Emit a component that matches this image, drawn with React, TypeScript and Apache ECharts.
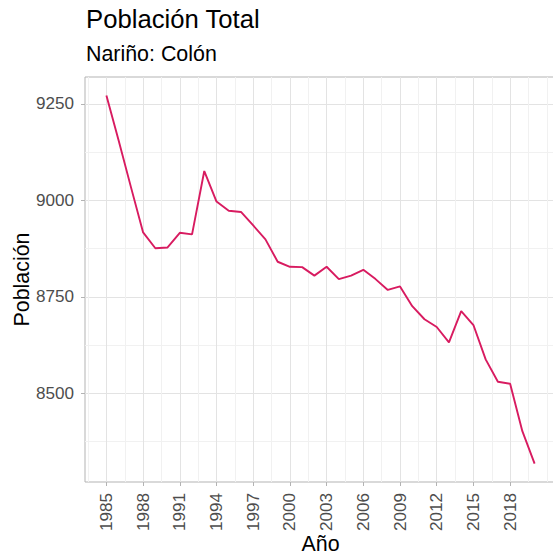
import React, { useEffect, useRef } from "react";
import * as echarts from "echarts";

const years: number[] = [
  1985, 1986, 1987, 1988, 1989, 1990, 1991, 1992, 1993, 1994, 1995, 1996,
  1997, 1998, 1999, 2000, 2001, 2002, 2003, 2004, 2005, 2006, 2007, 2008,
  2009, 2010, 2011, 2012, 2013, 2014, 2015, 2016, 2017, 2018, 2019, 2020,
];
const poblacion: number[] = [
  9272, 9155, 9035, 8917, 8876, 8878, 8916, 8912, 9076, 8997, 8973, 8970,
  8935, 8899, 8841, 8828, 8827, 8805, 8828, 8796, 8805, 8820, 8796, 8768,
  8777, 8726, 8692, 8672, 8632, 8713, 8677, 8588, 8530, 8525, 8402, 8318,
];
const xMajor: number[] = [1985, 1988, 1991, 1994, 1997, 2000, 2003, 2006, 2009, 2012, 2015, 2018];
const xMinor: number[] = [1983.5, 1986.5, 1989.5, 1992.5, 1995.5, 1998.5, 2001.5, 2004.5, 2007.5, 2010.5, 2013.5, 2016.5, 2019.5, 2021];
const yMajor: number[] = [8500, 8750, 9000, 9250];
const yMinor: number[] = [8375, 8625, 8875, 9125];

const titleText = "Población Total";
const subtitleText = "Nariño: Colón";
const xName = "Año";
const yName = "Población";

const FONT = "'Liberation Sans', Arial, sans-serif";

export default function App() {
  const ref = useRef<HTMLDivElement>(null);
  useEffect(() => {
    if (!ref.current) return;
    const chart = echarts.init(ref.current, undefined, { renderer: "svg" });
    const xMin0 = Math.min(...years);
    const xMax0 = Math.max(...years);
    const xPad = (xMax0 - xMin0) * 0.05;
    const yMin0 = Math.min(...poblacion);
    const yMax0 = Math.max(...poblacion);
    const yPad = (yMax0 - yMin0) * 0.05;
    const xMin = xMin0 - xPad;
    const xMax = xMax0 + xPad;
    const yMin = yMin0 - yPad;
    const yMax = yMax0 + yPad;

    const hiddenAxisBits = {
      axisLine: { show: false },
      axisLabel: { show: false },
    };

    chart.setOption({
      animation: false,
      backgroundColor: "#ffffff",
      textStyle: { fontFamily: FONT },
      graphic: [
        {
          type: "text",
          left: 86,
          top: 6,
          style: { text: titleText, font: `25.7px ${FONT}`, fill: "#000000" },
        },
        {
          type: "text",
          left: 86,
          top: 43,
          style: { text: subtitleText, font: `21.4px ${FONT}`, fill: "#000000" },
        },
      ],
      grid: {
        left: 85,
        top: 77,
        right: -3,
        bottom: 73,
        containLabel: false,
        outerBoundsMode: "none",
        show: true,
        borderColor: "#b3b3b3",
        borderWidth: 1,
        backgroundColor: "#ffffff",
      },
      xAxis: [
        {
          type: "value",
          min: xMin,
          max: xMax,
          position: "bottom",
          axisLine: { show: false },
          axisTick: {
            show: true,
            customValues: xMajor,
            length: 4,
            lineStyle: { color: "#b3b3b3", width: 1 },
          },
          axisLabel: {
            customValues: xMajor,
            rotate: 90,
            margin: 11,
            fontSize: 17.1,
            color: "#4d4d4d",
            fontFamily: FONT,
            formatter: (v: number) => String(v),
          },
          splitLine: { show: true, lineStyle: { color: "#e3e3e3", width: 1 } },
          name: xName,
          nameLocation: "middle",
          nameGap: 52,
          nameMoveOverlap: false,
          nameTextStyle: { fontSize: 21.4, lineHeight: 20, color: "#000000", fontFamily: FONT },
        },
        {
          type: "value",
          min: xMin,
          max: xMax,
          position: "bottom",
          ...hiddenAxisBits,
          axisTick: { show: false, customValues: xMinor },
          splitLine: { show: true, lineStyle: { color: "#f1f1f1", width: 1 } },
        },
      ],
      yAxis: [
        {
          type: "value",
          min: yMin,
          max: yMax,
          position: "left",
          axisLine: { show: false },
          axisTick: {
            show: true,
            customValues: yMajor,
            length: 4,
            lineStyle: { color: "#b3b3b3", width: 1 },
          },
          axisLabel: {
            customValues: yMajor,
            margin: 11,
            fontSize: 17.1,
            color: "#4d4d4d",
            fontFamily: FONT,
            formatter: (v: number) => String(v),
          },
          splitLine: { show: true, lineStyle: { color: "#e3e3e3", width: 1 } },
          name: yName,
          nameLocation: "middle",
          nameGap: 53,
          nameRotate: 90,
          nameMoveOverlap: false,
          nameTextStyle: { fontSize: 21.4, color: "#000000", fontFamily: FONT },
        },
        {
          type: "value",
          min: yMin,
          max: yMax,
          position: "left",
          ...hiddenAxisBits,
          axisTick: { show: false, customValues: yMinor },
          splitLine: { show: true, lineStyle: { color: "#f1f1f1", width: 1 } },
        },
      ],
      series: [
        {
          type: "line",
          xAxisIndex: 0,
          yAxisIndex: 0,
          data: years.map((y, i) => [y, poblacion[i]]),
          showSymbol: false,
          symbol: "none",
          lineStyle: { color: "#D81B60", width: 1.9 },
          z: 5,
        },
      ],
    });
    return () => chart.dispose();
  }, []);
  return (
    <div
      ref={ref}
      style={{ position: "fixed", left: 0, top: 0, width: 553, height: 555 }}
    />
  );
}
